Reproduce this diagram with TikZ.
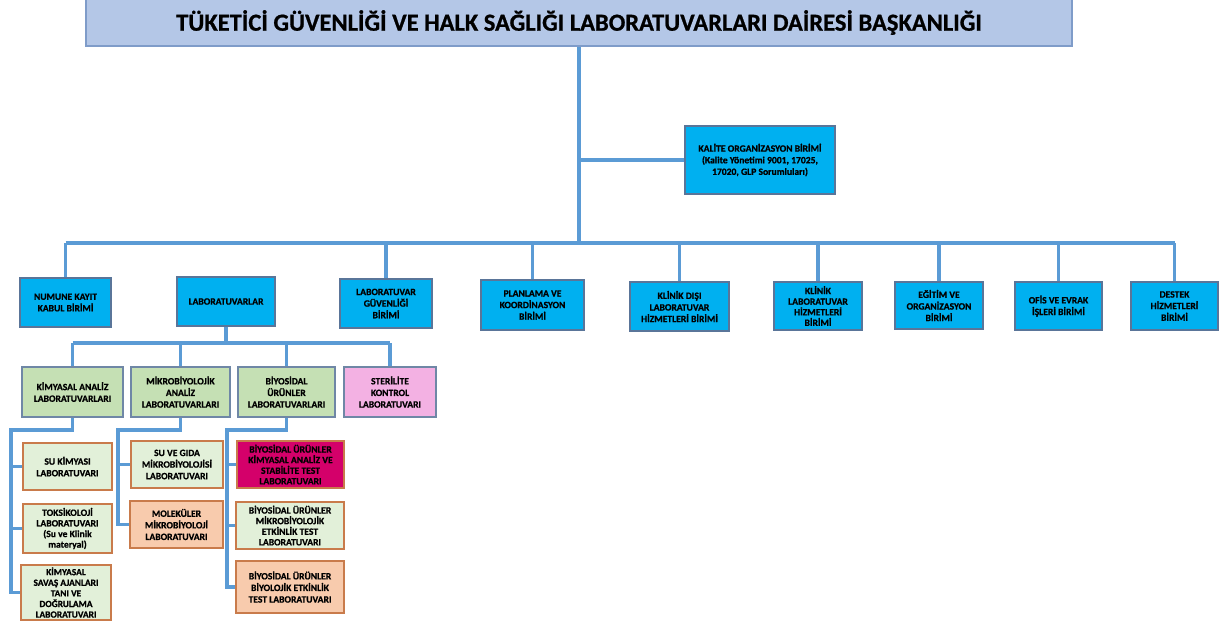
\documentclass[tikz,border=0pt]{standalone}
\usepackage{fontspec}
\setmainfont{Carlito}[BoldFeatures={FakeBold=0.8}]
\usetikzlibrary{backgrounds}
\definecolor{titlefill}{HTML}{B4C7E7}
\definecolor{titledraw}{HTML}{7F9CC9}
\definecolor{bluefill}{HTML}{00B0F0}
\definecolor{bluedraw}{HTML}{5A7599}
\definecolor{conncol}{HTML}{5B9BD5}
\definecolor{greenfill}{HTML}{C5E0B4}
\definecolor{greendraw}{HTML}{6F87A6}
\definecolor{lgreenfill}{HTML}{E2F0D9}
\definecolor{orangedraw}{HTML}{C97B4B}
\definecolor{orangefill}{HTML}{F8CBAD}
\definecolor{magfill}{HTML}{D4006A}
\definecolor{pinkfill}{HTML}{F3B1E3}
\tikzset{
  base/.style={draw, line width=1.1pt, align=center, inner sep=1pt,
    font=\bfseries\fontsize{9.6}{11.6}\selectfont},
  tight/.style={font=\bfseries\fontsize{9.6}{10.6}\selectfont},
  bluebox/.style={base, fill=bluefill, draw=bluedraw},
  greenbox/.style={base, fill=greenfill, draw=greendraw},
  pinkbox/.style={base, fill=pinkfill, draw=greendraw},
  lgbox/.style={base, fill=lgreenfill, draw=orangedraw},
  orbox/.style={base, fill=orangefill, draw=orangedraw},
  magbox/.style={base, fill=magfill, draw=orangedraw},
  conn/.style={draw=conncol, line width=3.6pt},
}
\begin{document}
\begin{tikzpicture}[x=1pt,y=-1pt]
\useasboundingbox (0,0) rectangle (1223,625);
% title
\node[draw=titledraw, fill=titlefill, line width=1.1pt, minimum width=986pt, minimum height=47pt,
  font=\bfseries\fontsize{24.5}{28}\selectfont] (title) at (579,22.5)
  {TÜKETİCİ GÜVENLİĞİ VE HALK SAĞLIĞI LABORATUVARLARI DAİRESİ BAŞKANLIĞI};
\node[bluebox, minimum width=150pt, minimum height=68pt] (kalite) at (760,160)
  {KALİTE ORGANİZASYON BİRİMİ\\(Kalite Yönetimi 9001, 17025,\\17020, GLP Sorumluları)};
% first row
\node[bluebox, minimum width=91pt, minimum height=49pt] (numune) at (65.5,302.5) {NUMUNE KAYIT\\KABUL BİRİMİ};
\node[bluebox, minimum width=98pt, minimum height=49pt] (lab) at (226,301.5) {LABORATUVARLAR};
\node[bluebox, minimum width=92pt, minimum height=49pt] (guv) at (386,303.5) {LABORATUVAR\\GÜVENLİĞİ\\BİRİMİ};
\node[bluebox, minimum width=103pt, minimum height=50pt] (plan) at (532.5,305) {PLANLAMA VE\\KOORDİNASYON\\BİRİMİ};
\node[bluebox, minimum width=99pt, minimum height=49pt] (kdisi) at (679.5,306.5) {KLİNİK DIŞI\\LABORATUVAR\\HİZMETLERİ BİRİMİ};
\node[bluebox, minimum width=88pt, minimum height=48pt, tight] (klab) at (818,306) {KLİNİK\\LABORATUVAR\\HİZMETLERİ\\BİRİMİ};
\node[bluebox, minimum width=88pt, minimum height=47pt] (egitim) at (939,305.5) {EĞİTİM VE\\ORGANİZASYON\\BİRİMİ};
\node[bluebox, minimum width=87pt, minimum height=48pt] (ofis) at (1058.5,306) {OFİS VE EVRAK\\İŞLERİ BİRİMİ};
\node[bluebox, minimum width=87pt, minimum height=48pt] (destek) at (1174.5,306) {DESTEK\\HİZMETLERİ\\BİRİMİ};
% second row
\node[greenbox, minimum width=101pt, minimum height=50pt] (kim) at (72.5,392) {KİMYASAL ANALİZ\\LABORATUVARLARI};
\node[greenbox, minimum width=99pt, minimum height=50pt] (mik) at (180.5,392) {MİKROBİYOLOJİK\\ANALİZ\\LABORATUVARLARI};
\node[greenbox, minimum width=97pt, minimum height=50pt] (biy) at (286.5,392) {BİYOSİDAL\\ÜRÜNLER\\LABORATUVARLARI};
\node[pinkbox, minimum width=92pt, minimum height=50pt] (ster) at (390,392) {STERİLİTE\\KONTROL\\LABORATUVARI};
% third level
\node[lgbox, minimum width=89pt, minimum height=47pt] (k1) at (67.5,466.5) {SU KİMYASI\\LABORATUVARI};
\node[lgbox, minimum width=89pt, minimum height=49pt, tight] (k2) at (67.5,528.5) {TOKSİKOLOJİ\\LABORATUVARI\\(Su ve Klinik\\materyal)};
\node[lgbox, minimum width=90pt, minimum height=55pt, font=\bfseries\fontsize{9.4}{10.6}\selectfont] (k3) at (66,592.5) {KİMYASAL\\SAVAŞ AJANLARI\\TANI VE\\DOĞRULAMA\\LABORATUVARI};
\node[lgbox, minimum width=92pt, minimum height=47pt] (m1) at (177,464.5) {SU VE GIDA\\MİKROBİYOLOJİSİ\\LABORATUVARI};
\node[orbox, minimum width=93pt, minimum height=47pt] (m2) at (176.5,524.5) {MOLEKÜLER\\MİKROBİYOLOJİ\\LABORATUVARI};
\node[magbox, minimum width=107pt, minimum height=47pt, tight] (b1) at (290.5,464.5) {BİYOSİDAL ÜRÜNLER\\KİMYASAL ANALİZ VE\\STABİLİTE TEST\\LABORATUVARI};
\node[lgbox, minimum width=108pt, minimum height=47pt, tight] (b2) at (290,525.5) {BİYOSİDAL ÜRÜNLER\\MİKROBİYOLOJİK\\ETKİNLİK TEST\\LABORATUVARI};
\node[orbox, minimum width=108pt, minimum height=52pt] (b3) at (290,587) {BİYOSİDAL ÜRÜNLER\\BİYOLOJİK ETKİNLİK\\TEST LABORATUVARI};
% coordinates
\coordinate (bus) at (579,243);
\coordinate (sbus) at (226,343);
\coordinate (kspine) at (11,430);
\coordinate (mspine) at (118,430);
\coordinate (bspine) at (227,430);
% connectors
\begin{scope}[on background layer]
\draw[conn] (title.south) -- (bus);
\draw[conn] (kalite.west) -- (kalite.west -| title.south);
\draw[conn] (numune.north |- bus) -- (destek.north |- bus);
\foreach \n in {numune,guv,plan,kdisi,klab,egitim,ofis,destek}
  \draw[conn] (\n.north) -- (\n.north |- bus);
\draw[conn] (lab.south) -- (sbus);
\draw[conn] (kim.north |- sbus) -- (ster.north |- sbus);
\foreach \n in {kim,mik,biy,ster}
  \draw[conn] (\n.north) -- (\n.north |- sbus);
\draw[conn] (kim.south) |- (kspine) |- (k3.west);
\draw[conn] (kspine |- k1.west) -- (k1.west);
\draw[conn] (kspine |- k2.west) -- (k2.west);
\draw[conn] (mik.south) |- (mspine) |- (m2.west);
\draw[conn] (mspine |- m1.west) -- (m1.west);
\draw[conn] (biy.south) |- (bspine) |- (b3.west);
\draw[conn] (bspine |- b1.west) -- (b1.west);
\draw[conn] (bspine |- b2.west) -- (b2.west);
\end{scope}
\end{tikzpicture}
\end{document}
